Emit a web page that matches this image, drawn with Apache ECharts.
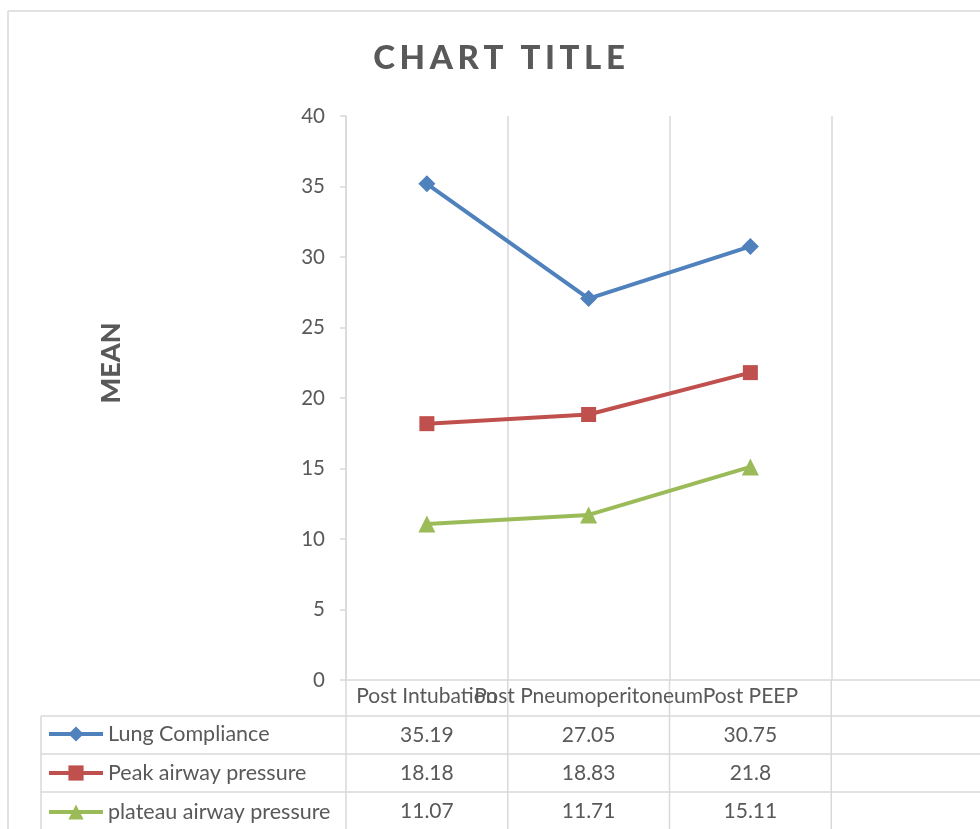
<!DOCTYPE html>
<html>
<head>
<meta charset="utf-8">
<script src="https://cdn.jsdelivr.net/npm/echarts@6/dist/echarts.min.js"></script>
<style>
  html, body { margin: 0; padding: 0; background: #ffffff; }
  #chart { width: 980px; height: 829px; }
</style>
</head>
<body>
<div id="chart"></div>
<script>
// Labels and measurements
const chartTitle = 'CHART TITLE';
const axisName = 'MEAN';
const categories = ['Post Intubation', 'Post Pneumoperitoneum', 'Post PEEP', ''];
const seriesNames = ['Lung Compliance', 'Peak airway pressure', 'plateau airway pressure'];
const lungCompliance = [35.19, 27.05, 30.75];
const peakAirwayPressure = [18.18, 18.83, 21.8];
const plateauAirwayPressure = [11.07, 11.71, 15.11];
const yMin = 0;
const yMax = 40;
const yStep = 5;

const seriesValues = [lungCompliance, peakAirwayPressure, plateauAirwayPressure];
const seriesColors = ['#4F81BD', '#C0504D', '#9BBB59'];
const seriesSymbols = ['diamond', 'rect', 'triangle'];
const seriesSymbolSizes = [17, 15, 17];

const font = 'Lato, "Noto Sans", sans-serif';
const ink = '#595959';
const rule = '#d9d9d9';

const chart = echarts.init(document.getElementById('chart'), null, { renderer: 'canvas' });

const option = {
  animation: false,
  backgroundColor: '#ffffff',
  textStyle: { fontFamily: font },
  grid: { left: 346, top: 116, right: -13, bottom: 149, containLabel: false, outerBoundsMode: 'none' },
  xAxis: {
    type: 'category',
    data: categories,
    boundaryGap: true,
    axisLine: { show: true, lineStyle: { color: rule, width: 1.5 } },
    axisTick: { show: false },
    axisLabel: { interval: 0, hideOverlap: false, color: ink, fontSize: 21, fontFamily: font, margin: 6 },
    splitLine: { show: true, lineStyle: { color: rule, width: 1.5 } }
  },
  yAxis: {
    type: 'value',
    min: yMin,
    max: yMax,
    interval: yStep,
    axisLine: { show: true, lineStyle: { color: rule, width: 1.5 } },
    axisTick: { show: true, length: 6, lineStyle: { color: rule, width: 1.5 } },
    axisLabel: { color: ink, fontSize: 20.5, fontFamily: font, margin: 21 },
    splitLine: { show: false }
  },
  legend: {
    orient: 'vertical',
    left: 47,
    top: 723,
    height: 140,
    itemWidth: 54,
    itemHeight: 19,
    itemGap: 17,
    padding: 0,
    selectedMode: false,
    lineStyle: { width: 4 },
    textStyle: { color: ink, fontSize: 21.5, lineHeight: 21, fontFamily: font },
    data: seriesNames
  },
  series: seriesNames.map((name, i) => ({
    name: name,
    type: 'line',
    data: seriesValues[i],
    symbol: seriesSymbols[i],
    symbolSize: seriesSymbolSizes[i],
    showAllSymbol: true,
    lineStyle: { color: seriesColors[i], width: 4 },
    itemStyle: { color: seriesColors[i] },
    emphasis: { disabled: true }
  }))
};

chart.setOption(option);

// Data table under the plot, aligned to the category columns
const centers = categories.map((c, i) => chart.convertToPixel({ xAxisIndex: 0 }, i));
const half = (centers[1] - centers[0]) / 2;
const bounds = centers.map(c => c - half);
const axisY = chart.convertToPixel({ yAxisIndex: 0 }, yMin);
const headerH = 36;
const rowH = 38;
const tableLeft = 41;
const W = 980, H = 829;

const graphics = [];
const line = (x1, y1, x2, y2) => graphics.push({
  type: 'line', silent: true,
  shape: { x1, y1, x2, y2 },
  style: { stroke: rule, lineWidth: 1.5 }
});

// outer chart frame
line(8, 11, W + 2, 11);
line(8, 11, 8, H + 2);

// table rules
for (let r = 0; r < seriesNames.length; r++) {
  const y = axisY + headerH + r * rowH;
  line(tableLeft, y, W + 2, y);
}
line(tableLeft, axisY + headerH, tableLeft, H + 2);
bounds.forEach(b => line(b, axisY, b, H + 2));

// table values
seriesValues.forEach((vals, r) => {
  const cy = axisY + headerH + r * rowH + rowH / 2;
  vals.forEach((v, c) => {
    graphics.push({
      type: 'text', silent: true,
      style: {
        x: centers[c], y: cy, text: String(v),
        align: 'center', verticalAlign: 'middle',
        fill: ink, font: '21px ' + font
      }
    });
  });
});

// spaced title
graphics.push({
  type: 'text', silent: true,
  style: {
    x: 499, y: 58,
    text: chartTitle.split('').map(ch => '{c|' + ch + '}').join(''),
    align: 'center', verticalAlign: 'middle',
    rich: { c: { fontSize: 33, fontWeight: 900, fontFamily: font, fill: ink, color: ink, padding: [0, 2.3, 0, 2.3] } }
  }
});

// value axis title
graphics.push({
  type: 'text', silent: true,
  x: 111, y: 363, rotation: Math.PI / 2,
  style: {
    x: 0, y: 0, text: axisName,
    align: 'center', verticalAlign: 'middle',
    fill: ink, font: '900 27px ' + font
  }
});

chart.setOption({ graphic: graphics });
</script>
</body>
</html>
